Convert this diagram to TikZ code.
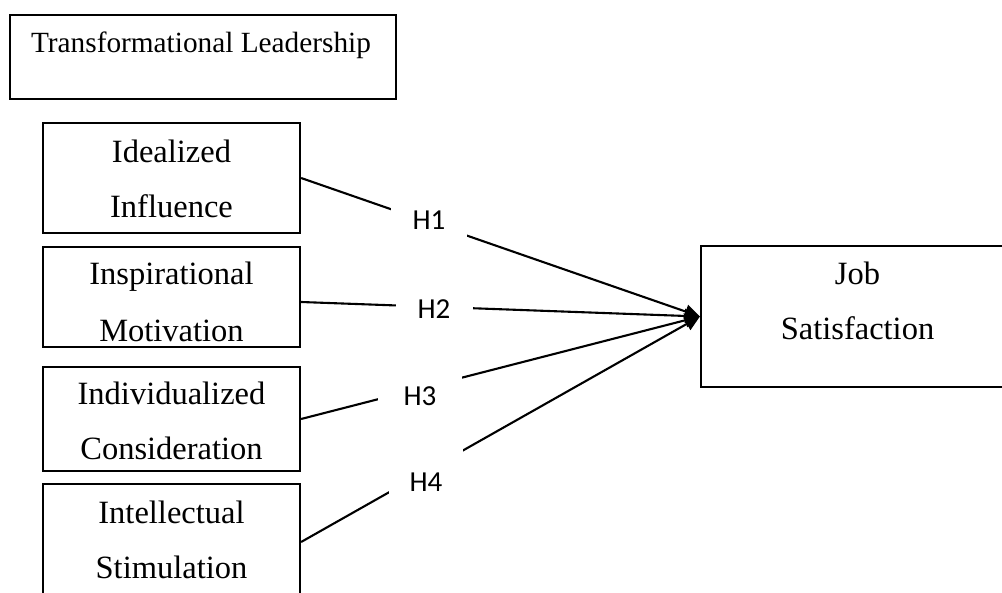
\documentclass[tikz,border=0pt]{standalone}
\usepackage{fontspec}
\setmainfont{Liberation Serif}
\newfontfamily\calfont{Carlito}
\usetikzlibrary{arrows.meta}
\begin{document}
\begin{tikzpicture}[x=1pt,y=-1pt,
  box/.style={draw, line width=2.2pt, rectangle, inner sep=0pt},
  txt/.style={anchor=base, inner sep=0pt, font=\fontsize{32.5}{38}\selectfont},
  ttl/.style={anchor=base, inner sep=0pt, font=\fontsize{29.3}{34}\selectfont},
  hlab/.style={fill=white, inner sep=0pt, font=\calfont\fontsize{29}{34}\selectfont},
  conn/.style={line width=2.1pt, -{Triangle[length=15pt,width=14pt]}}]
\useasboundingbox (0,0) rectangle (1002,593);
\fill[white] (0,0) rectangle (1002,593);
\clip (0,0) rectangle (1002,593);
% top box
\node[box, minimum width=386pt, minimum height=84pt] (top) at (203,57) {};
\node[ttl] (toptext) at (201,53) {Transformational Leadership};
% left boxes
\node[box, minimum width=257pt, minimum height=110pt] (b1) at (171.5,178) {};
\node[txt] (b1a) at (171.5,163) {Idealized};
\node[txt] (b1b) at (171.5,218) {Influence};
\node[box, minimum width=257pt, minimum height=100pt] (b2) at (171.5,297) {};
\node[txt] (b2a) at (171.5,285) {Inspirational};
\node[txt] (b2b) at (171.5,342) {Motivation};
\node[box, minimum width=257pt, minimum height=104pt] (b3) at (171.5,419) {};
\node[txt] (b3a) at (171.5,405) {Individualized};
\node[txt] (b3b) at (171.5,460) {Consideration};
\node[box, minimum width=257pt, minimum height=116pt] (b4) at (171.5,542) {};
\node[txt] (b4a) at (171.5,523) {Intellectual};
\node[txt] (b4b) at (171.5,578) {Stimulation};
% job satisfaction
\node[box, minimum width=313pt, minimum height=141pt] (job) at (857.5,316.5) {};
\node[txt] (joba) at (857.5,285) {Job};
\node[txt] (jobb) at (857.5,340) {Satisfaction};
% connectors
\draw[conn] (b1.east) -- (job.west);
\draw[conn] ([yshift=-5pt]b2.east) -- (job.west);
\draw[conn] (b3.east) -- (job.west);
\draw[conn] (b4.east) -- (job.west);
% labels
\node[hlab, minimum width=76pt, minimum height=40pt] (h1) at (429,220) {H1};
\node[hlab, minimum width=77pt, minimum height=36pt] (h2) at (434,309) {H2};
\node[hlab, minimum width=84pt, minimum height=44pt] (h3) at (420,396) {H3};
\node[hlab, minimum width=74pt, minimum height=66pt] (h4) at (426,482) {H4};
\end{tikzpicture}
\end{document}
